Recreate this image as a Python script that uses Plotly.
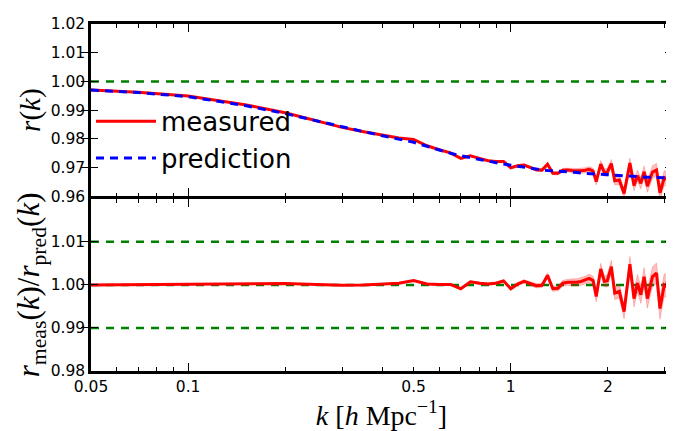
import math
import plotly.graph_objects as go

# ---------------- data ----------------
k = [0.05, 0.07, 0.10, 0.15, 0.20, 0.25, 0.30, 0.35, 0.40, 0.45,
     0.50, 0.55, 0.60, 0.65, 0.70, 0.75, 0.80, 0.85, 0.90, 0.95,
     1.00, 1.05, 1.10, 1.15, 1.20, 1.25, 1.30, 1.35, 1.40, 1.45,
     1.50, 1.55, 1.60, 1.65, 1.70, 1.75, 1.80,
     1.84, 1.90, 1.95, 1.99, 2.05, 2.10, 2.17, 2.245,
     2.34, 2.41, 2.47, 2.53, 2.59, 2.65, 2.75, 2.83, 2.90, 2.99, 3.04, 3.08, 3.157]

r_pred = [0.9970, 0.9961, 0.9947, 0.9916, 0.9888, 0.9862, 0.9841, 0.9825, 0.9811, 0.9799,
          0.9788, 0.9774, 0.9761, 0.9750, 0.9741, 0.9734, 0.9728, 0.9722, 0.9717, 0.9712,
          0.9708, 0.9704, 0.9701, 0.9697, 0.9694, 0.9692, 0.9690, 0.9689, 0.9688, 0.9687,
          0.9686, 0.9684, 0.9683, 0.9681, 0.9680, 0.9679, 0.9678,
          0.9677, 0.9676, 0.9675, 0.9674, 0.9673, 0.9672, 0.9671, 0.9670,
          0.9669, 0.9668, 0.9668, 0.9667, 0.9667, 0.9666, 0.9666, 0.9665, 0.9665, 0.9664, 0.9664, 0.9664, 0.9664]

ratio = [1.0000, 1.0001, 1.0002, 1.0003, 1.0003, 1.0001, 0.9999, 1.0000, 1.0002, 1.0004,
         1.0010, 1.0002, 1.0001, 1.0001, 0.9991, 1.0007, 1.0004, 1.0002, 1.0004, 1.0009,
         0.9991, 1.0002, 1.0008, 1.0002, 0.9998, 0.9999, 1.0022, 0.9991, 0.9992, 1.0004,
         1.0006, 1.0006, 1.0006, 1.0008, 1.0011, 1.0015, 1.0010,
         0.9973, 1.0037, 1.0008, 1.0009, 1.0042, 0.9981, 0.9985, 0.9938,
         1.0048, 0.9968, 1.0004, 0.9977, 1.0019, 0.9968, 1.0019, 1.0027, 0.9945, 1.0000, 0.9996, 1.0027, 1.0046]

ratio_err = [0.0001, 0.0001, 0.0001, 0.0001, 0.0001, 0.0001, 0.0001, 0.00012, 0.00012, 0.00015,
             0.00015, 0.00015, 0.0002, 0.0002, 0.0002, 0.00025, 0.00025, 0.0003, 0.0003, 0.0003,
             0.00035, 0.0004, 0.0004, 0.00045, 0.0005, 0.0005, 0.0006, 0.0006, 0.0006, 0.0007,
             0.0007, 0.0008, 0.0008, 0.0009, 0.0009, 0.0010, 0.0010,
             0.0012, 0.0013, 0.0013, 0.0014, 0.0015, 0.0015, 0.0016, 0.0017,
             0.0018, 0.0019, 0.0020, 0.0020, 0.0021, 0.0022, 0.0023, 0.0024, 0.0025, 0.0026, 0.0027, 0.0028, 0.0030]

# measured r(k) = prediction * ratio
r_meas = [p * q for p, q in zip(r_pred, ratio)]
r_meas_err = [p * e for p, e in zip(r_pred, ratio_err)]

top_ref_levels = [1.00]
bottom_ref_levels = [0.99, 1.00, 1.01]

x_range = [0.05, 3.16]
x_tick_vals = [0.05, 0.1, 0.5, 1, 2]
x_tick_text = ["0.05", "0.1", "0.5", "1", "2"]
x_minor_vals = [0.06, 0.07, 0.08, 0.09, 0.2, 0.3, 0.4, 0.6, 0.7, 0.8, 0.9, 3]
x_decade_vals = [0.1, 1]
top_y_ticks = [0.96, 0.97, 0.98, 0.99, 1.00, 1.01, 1.02]
bottom_y_ticks = [0.98, 0.99, 1.00, 1.01]
top_y_range = [0.96, 1.02]
bottom_y_range = [0.98, 1.02]

# ---------------- figure ----------------
BAND = "rgba(255,0,0,0.25)"
BAND_EDGE = "rgba(255,0,0,0.35)"
GREEN = "#008000"
LW = 2.5
PLOT_H = 431 - 16 - 68
half = (LW / 2) / PLOT_H

fig = go.Figure()

# top panel: band, measured, prediction
fig.add_trace(go.Scatter(x=k, y=[m - e for m, e in zip(r_meas, r_meas_err)], xaxis="x2", yaxis="y2",
                         mode="lines", line=dict(color=BAND_EDGE, width=0.6), showlegend=False, hoverinfo="skip"))
fig.add_trace(go.Scatter(x=k, y=[m + e for m, e in zip(r_meas, r_meas_err)], xaxis="x2", yaxis="y2",
                         mode="lines", line=dict(color=BAND_EDGE, width=0.6), fill="tonexty", fillcolor=BAND,
                         showlegend=False, hoverinfo="skip"))
fig.add_trace(go.Scatter(x=k, y=r_meas, xaxis="x2", yaxis="y2", mode="lines", name="measured",
                         line=dict(color="#ff0000", width=3)))
fig.add_trace(go.Scatter(x=k, y=r_pred, xaxis="x2", yaxis="y2", mode="lines", name="prediction",
                         line=dict(color="#0000ff", width=3, dash="8px,6px")))

# bottom panel: ratio
fig.add_trace(go.Scatter(x=k, y=[r - e for r, e in zip(ratio, ratio_err)], xaxis="x", yaxis="y",
                         mode="lines", line=dict(color=BAND_EDGE, width=0.6), showlegend=False, hoverinfo="skip"))
fig.add_trace(go.Scatter(x=k, y=[r + e for r, e in zip(ratio, ratio_err)], xaxis="x", yaxis="y",
                         mode="lines", line=dict(color=BAND_EDGE, width=0.6), fill="tonexty", fillcolor=BAND,
                         showlegend=False, hoverinfo="skip"))
fig.add_trace(go.Scatter(x=k, y=ratio, xaxis="x", yaxis="y", mode="lines", showlegend=False,
                         line=dict(color="#ff0000", width=3)))

# empty traces so that the overlay axes (long decade ticks) get drawn
fig.add_trace(go.Scatter(x=[], y=[], xaxis="x3", yaxis="y", showlegend=False))
fig.add_trace(go.Scatter(x=[], y=[], xaxis="x4", yaxis="y2", showlegend=False))

# green dashed reference lines
for lvl in top_ref_levels:
    fig.add_shape(type="line", xref="x2 domain", yref="y2", x0=0, x1=1, y0=lvl, y1=lvl,
                  line=dict(color=GREEN, width=2.5, dash="8px,7px"), layer="below")
for lvl in bottom_ref_levels:
    fig.add_shape(type="line", xref="x domain", yref="y", x0=0, x1=1, y0=lvl, y1=lvl,
                  line=dict(color=GREEN, width=2.5, dash="8px,7px"), layer="below")

xr = [math.log10(x_range[0]), math.log10(x_range[1])]
tickfont = dict(family="DejaVu Sans", size=15.5, color="black")
serif = "Liberation Serif"

common_x = dict(type="log", range=xr, showgrid=False, zeroline=False, showline=True, linecolor="black",
                linewidth=LW, mirror="allticks", ticks="inside", ticklen=4, tickwidth=1, tickcolor="black",
                tickvals=x_tick_vals, ticktext=x_tick_text, tickfont=tickfont, automargin=False,
                minor=dict(tickvals=x_minor_vals, ticks="inside", ticklen=4, tickwidth=1, tickcolor="black",
                           showgrid=False))
common_y = dict(showgrid=False, zeroline=False, showline=True, linecolor="black", linewidth=LW, mirror="allticks",
                ticks="inside", ticklen=7, tickwidth=1, tickcolor="black", tickfont=tickfont, tickformat=".2f",
                automargin=False)

overlay_x = dict(type="log", range=xr, showgrid=False, zeroline=False, showline=False, mirror="allticks",
                 ticks="inside", ticklen=8, tickwidth=1, tickcolor="black", tickvals=x_decade_vals,
                 showticklabels=False, automargin=False)

# small gap so that the two axis lines at the panel boundary coincide
bottom_dom = [0, 0.5 - half]
top_dom = [0.5 + half, 1]

fig.update_layout(
    width=674, height=431,
    margin=dict(l=83, r=10, t=16, b=68, autoexpand=False),
    paper_bgcolor="white", plot_bgcolor="rgba(0,0,0,0)",
    xaxis=dict(**common_x, domain=[0, 1], anchor="y",
               title=dict(text="<i>k</i> [<i>h</i> Mpc<sup>−1</sup>]",
                          font=dict(family=serif, size=28, color="black"), standoff=2)),
    xaxis2=dict(**common_x, domain=[0, 1], anchor="y2", matches="x", showticklabels=False),
    xaxis3=dict(**overlay_x, overlaying="x", anchor="y"),
    xaxis4=dict(**overlay_x, overlaying="x2", anchor="y2"),
    yaxis=dict(**common_y, domain=bottom_dom, anchor="x", range=bottom_y_range, tickvals=bottom_y_ticks,
               title=dict(text="<i>r</i><sub>meas</sub>(<i>k</i>)/<i>r</i><sub>pred</sub>(<i>k</i>)",
                          font=dict(family=serif, size=31, color="black"), standoff=1)),
    yaxis2=dict(**common_y, domain=top_dom, anchor="x2", range=top_y_range, tickvals=top_y_ticks,
                title=dict(text="<i>r</i>(<i>k</i>)", font=dict(family=serif, size=29, color="black"),
                           standoff=2)),
    legend=dict(x=0.0, y=0.787, xanchor="left", yanchor="top", bgcolor="rgba(0,0,0,0)",
                font=dict(family="DejaVu Sans", size=26, color="black"), itemwidth=60, tracegroupgap=0,
                traceorder="normal"),
    showlegend=True,
)

fig.write_html("out.html")
